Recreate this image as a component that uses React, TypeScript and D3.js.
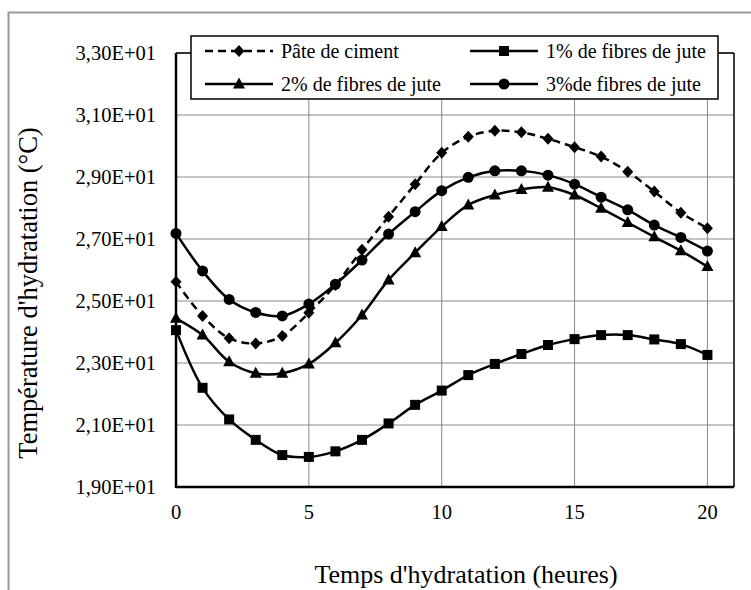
import React from 'react';
import * as d3 from 'd3';

const hours = [0, 1, 2, 3, 4, 5, 6, 7, 8, 9, 10, 11, 12, 13, 14, 15, 16, 17, 18, 19, 20];
const pate = [25.62, 24.52, 23.8, 23.63, 23.87, 24.62, 25.52, 26.65, 27.72, 28.77, 29.78, 30.3, 30.49, 30.44, 30.23, 29.96, 29.66, 29.17, 28.53, 27.85, 27.35];
const jute1 = [24.06, 22.2, 21.18, 20.52, 20.03, 19.97, 20.15, 20.52, 21.05, 21.65, 22.11, 22.61, 22.97, 23.29, 23.58, 23.77, 23.9, 23.9, 23.76, 23.61, 23.26];
const jute2 = [24.44, 23.9, 23.04, 22.67, 22.67, 22.97, 23.65, 24.55, 25.68, 26.56, 27.4, 28.1, 28.42, 28.6, 28.67, 28.42, 27.99, 27.53, 27.07, 26.62, 26.11];
const jute3 = [27.18, 25.97, 25.05, 24.63, 24.52, 24.9, 25.54, 26.32, 27.16, 27.88, 28.56, 28.99, 29.2, 29.2, 29.06, 28.77, 28.35, 27.94, 27.45, 27.05, 26.61];

const seriesNames = ['Pâte de ciment', '1% de fibres de jute', '2% de fibres de jute', '3%de fibres de jute'];
const xTicks = [0, 5, 10, 15, 20];
const yTicks = [19, 21, 23, 25, 27, 29, 31, 33];
const yTickLabels = ['1,90E+01', '2,10E+01', '2,30E+01', '2,50E+01', '2,70E+01', '2,90E+01', '3,10E+01', '3,30E+01'];
const xTitle = "Temps d'hydratation (heures)";
const yTitle = "Température d'hydratation (°C)";

const FONT = "'Liberation Serif', 'DejaVu Serif', serif";
const tStyle = { fontFamily: FONT };

type Shape = 'diamond' | 'square' | 'triangle' | 'circle';

function Marker({ shape, x, y }: { shape: Shape; x: number; y: number }) {
  if (shape === 'circle') return <circle cx={x} cy={y} r={5.5} fill="#000" />;
  if (shape === 'square') return <rect x={x - 5} y={y - 5} width={10} height={10} fill="#000" />;
  if (shape === 'triangle') return <path d={`M${x},${y - 6.5}L${x + 6},${y + 4.5}L${x - 6},${y + 4.5}Z`} fill="#000" />;
  return <path d={`M${x},${y - 6}L${x + 5.5},${y}L${x},${y + 6}L${x - 5.5},${y}Z`} fill="#000" />;
}

export default function App() {
  const W = 751, H = 590;
  const left = 176, right = 734, top = 53, bottom = 487;
  const x = d3.scaleLinear().domain([0, 21]).range([left, right]);
  const y = d3.scaleLinear().domain([19, 33]).range([bottom, top]);

  const series = [
    { name: seriesNames[0], values: pate, shape: 'diamond' as Shape, dash: '8,5' },
    { name: seriesNames[1], values: jute1, shape: 'square' as Shape, dash: undefined },
    { name: seriesNames[2], values: jute2, shape: 'triangle' as Shape, dash: undefined },
    { name: seriesNames[3], values: jute3, shape: 'circle' as Shape, dash: undefined },
  ];

  const line = d3
    .line<number>()
    .x((_, i) => x(hours[i]))
    .y((d) => y(d))
    .curve(d3.curveCatmullRom.alpha(0.5));

  const legendX = 191, legendY = 36, legendW = 527, legendH = 63;
  const legendItems = [
    { s: series[0], lx: 205, ly: 51 },
    { s: series[1], lx: 470, ly: 51 },
    { s: series[2], lx: 205, ly: 84 },
    { s: series[3], lx: 470, ly: 84 },
  ];

  return (
    <svg width={W} height={H} style={{ position: 'absolute', left: 0, top: 0, background: '#fff', fontFamily: FONT }}>
      <rect x={0} y={0} width={W} height={H} fill="#fff" />
      <path d={`M8.5,${H}V12.5H${W}`} fill="none" stroke="#999" strokeWidth={2} />

      {yTicks.map((t) => (
        <line key={'gy' + t} x1={left} x2={right} y1={y(t)} y2={y(t)} stroke="#8a8a8a" strokeWidth={1} />
      ))}
      {xTicks.map((t) => (
        <line key={'gx' + t} x1={x(t)} x2={x(t)} y1={top} y2={bottom} stroke="#8a8a8a" strokeWidth={1} />
      ))}
      <line x1={left} x2={right} y1={top} y2={top} stroke="#000" strokeWidth={1.5} />
      <line x1={right} x2={right} y1={top} y2={bottom} stroke="#000" strokeWidth={1.5} />
      <line x1={left} x2={left} y1={top} y2={bottom + 1} stroke="#000" strokeWidth={2.5} />
      <line x1={left} x2={right} y1={bottom} y2={bottom} stroke="#000" strokeWidth={2.5} />

      {yTicks.map((t, i) => (
        <text key={'ly' + t} x={156} y={y(t)} dy="0.35em" textAnchor="end" fontSize={20.5} fill="#000" style={tStyle}>
          {yTickLabels[i]}
        </text>
      ))}
      {xTicks.map((t) => (
        <text key={'lx' + t} x={x(t)} y={512} dy="0.35em" textAnchor="middle" fontSize={20.5} fill="#000" style={tStyle}>
          {t}
        </text>
      ))}

      {series.map((s) => (
        <g key={s.name}>
          <path d={line(s.values) || ''} fill="none" stroke="#000" strokeWidth={2.5} strokeDasharray={s.dash} />
          {s.values.map((v, i) => (
            <Marker key={i} shape={s.shape} x={x(hours[i])} y={y(v)} />
          ))}
        </g>
      ))}

      <rect x={legendX} y={legendY} width={legendW} height={legendH} fill="#fff" stroke="#000" strokeWidth={1.5} />
      {legendItems.map(({ s, lx, ly }) => (
        <g key={'lg' + s.name}>
          <line x1={lx} x2={lx + 68} y1={ly} y2={ly} stroke="#000" strokeWidth={2.5} strokeDasharray={s.dash} />
          <Marker shape={s.shape} x={lx + 34} y={ly} />
          <text x={lx + 76} y={ly} dy="0.35em" fontSize={20} fill="#000" style={tStyle}>
            {s.name}
          </text>
        </g>
      ))}

      <text x={466} y={574} dy="0.35em" textAnchor="middle" fontSize={26} fill="#000" style={tStyle}>
        {xTitle}
      </text>
      <text transform="translate(37,293) rotate(-90)" textAnchor="middle" fontSize={26.5} fill="#000" style={tStyle}>
        {yTitle}
      </text>
    </svg>
  );
}
